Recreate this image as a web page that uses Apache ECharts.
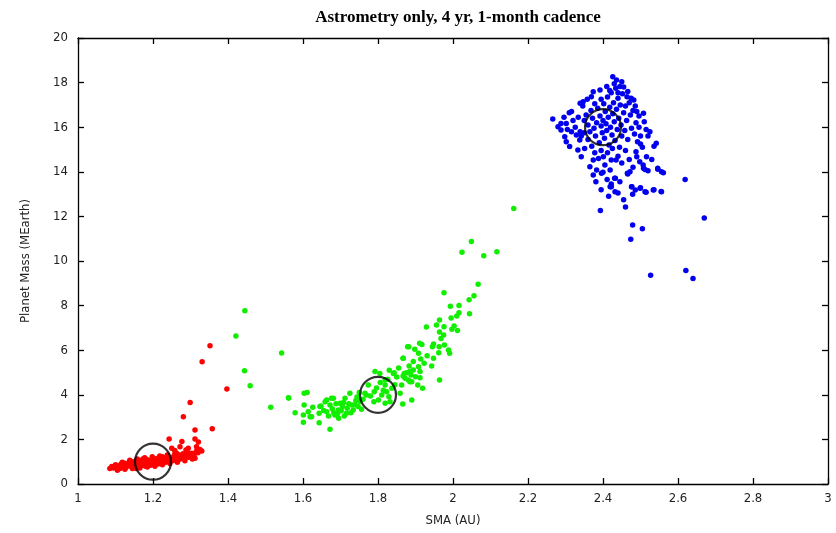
<!DOCTYPE html>
<html>
<head>
<meta charset="utf-8">
<script src="https://cdn.jsdelivr.net/npm/echarts@6/dist/echarts.min.js"></script>
<style>
  html, body { margin: 0; padding: 0; background: #fff; }
  #chart { width: 836px; height: 533px; }
</style>
</head>
<body>
<div id="chart"></div>
<script>
// x tick range / y tick range
const xTicks = [1, 3, 0.2]
const yTicks = [0, 20, 2]

// reference positions (circles)
const refPoints = [[1.2, 1], [1.8, 4], [2.4, 16]]

const redPts = [
  [1.085,0.70],[1.09,0.78],[1.095,0.72],[1.10,0.80],[1.10,0.86],[1.105,0.75],[1.11,0.82],[1.112,0.70],
  [1.115,0.90],[1.12,0.78],[1.12,0.85],[1.125,0.93],[1.128,0.74],[1.13,0.82],[1.132,0.88],[1.135,0.95],
  [1.14,0.80],[1.14,0.90],[1.143,1.00],[1.145,0.76],[1.15,0.86],[1.15,0.94],[1.152,1.02],[1.155,0.82],
  [1.158,0.90],[1.16,0.97],[1.16,1.05],[1.163,0.78],[1.165,0.88],[1.168,0.94],[1.17,1.00],[1.17,1.08],
  [1.173,0.84],[1.175,0.92],[1.178,0.98],[1.18,1.04],[1.18,0.80],[1.183,1.10],[1.185,0.88],[1.188,0.95],
  [1.19,1.00],[1.19,1.06],[1.193,0.84],[1.195,0.92],[1.198,0.98],[1.20,1.03],[1.20,1.10],[1.202,0.88],
  [1.205,0.95],[1.208,1.00],[1.21,1.07],[1.21,1.14],[1.213,0.90],[1.215,0.98],[1.218,1.04],[1.22,1.10],
  [1.222,0.94],[1.225,1.00],[1.228,1.06],[1.23,1.13],[1.232,0.96],[1.235,1.03],[1.238,1.09],[1.24,1.16],
  [1.242,1.00],[1.245,1.06],[1.248,1.12],[1.25,1.20],[1.252,1.04],[1.255,1.10],[1.258,1.16],[1.26,1.24],
  [1.262,1.08],[1.265,1.14],[1.268,1.20],[1.27,1.30],[1.272,1.12],[1.275,1.18],[1.278,1.25],[1.28,1.36],
  [1.283,1.16],[1.285,1.22],[1.29,1.30],[1.292,1.42],[1.295,1.20],[1.30,1.28],[1.303,1.38],[1.308,1.24],
  [1.31,1.34],[1.315,1.46],[1.32,1.40],[1.325,1.55],[1.33,1.48],
  [1.105,0.62],[1.125,0.66],[1.145,0.70],[1.165,0.72],[1.185,0.76],[1.205,0.80],[1.225,0.86],[1.245,0.92],
  [1.118,0.98],[1.138,1.06],[1.158,1.12],[1.178,1.18],[1.198,1.22],[1.218,1.26],[1.238,1.30],[1.258,1.34],
  [1.265,0.98],[1.285,1.04],[1.305,1.12],[1.225,1.22],[1.175,1.14],[1.155,0.70],
  [1.243,2.02],[1.277,1.91],[1.312,2.02],[1.321,1.88],[1.272,1.67],[1.294,1.60],[1.316,1.67],[1.325,1.52],
  [1.250,1.60],[1.263,1.38],[1.299,1.30],[1.312,1.15],[1.285,1.15],[1.267,1.08],[1.258,1.50],[1.288,1.52],
  [1.281,3.02],[1.299,3.66],[1.312,2.42],[1.358,2.48],[1.331,5.48],[1.352,6.20],[1.397,4.26]
]

const greenPts = [
  [1.445,7.77],[1.421,6.64],[1.543,5.87],[1.444,5.08],[1.459,4.41],[1.514,3.44],[1.562,3.86],[1.579,3.20],
  [1.603,4.07],[1.611,4.10],[1.601,3.09],[1.601,2.77],[1.619,3.02],[1.626,3.44],[1.645,3.47],[1.643,2.75],
  [1.672,2.45],[1.663,3.77],[1.681,3.84],
  [1.561,3.87],[1.603,3.54],[1.614,3.24],[1.623,3.02],[1.643,3.17],[1.648,3.50],[1.659,3.69],[1.663,3.24],
  [1.672,3.54],[1.676,3.84],[1.685,3.09],[1.694,3.32],[1.699,3.62],[1.705,3.47],[1.716,3.17],[1.712,3.84],
  [1.725,4.07],[1.730,3.54],[1.734,3.32],[1.741,3.74],[1.747,3.47],[1.765,4.07],[1.774,4.44],[1.769,3.99],
  [1.790,4.14],[1.789,3.69],[1.801,3.77],[1.810,3.99],[1.819,4.44],[1.823,4.14],[1.829,3.91],[1.837,4.29],
  [1.832,3.69],[1.819,3.62],[1.792,5.04],[1.805,4.96],[1.841,4.96],[1.819,4.66],[1.859,4.07],[1.863,4.44],
  [1.870,4.96],[1.872,4.74],[1.885,5.04],[1.890,3.77],[1.885,4.59],
  [1.655,3.30],[1.668,3.05],[1.678,3.38],[1.688,3.60],[1.692,3.15],[1.702,3.28],[1.708,3.66],[1.718,3.40],
  [1.722,3.60],[1.728,3.20],[1.738,3.55],[1.744,3.90],[1.752,3.70],[1.756,3.35],[1.760,3.80],[1.695,2.95],
  [1.682,3.20],[1.710,3.05],[1.750,4.10],[1.780,3.95],[1.796,4.30],[1.806,4.55],[1.814,4.20],[1.826,4.70],
  [1.845,4.45],[1.850,4.80],[1.855,5.20],[1.830,5.10],
  [1.866,3.59],[1.867,5.64],[1.879,6.16],
  [2.162,12.35],[2.049,10.87],[2.024,10.39],[2.082,10.24],[2.117,10.42],[2.067,8.96],[1.976,8.58],[2.056,8.44],
  [2.043,8.26],[2.016,8.00],[1.993,7.97],[2.044,7.64],[2.016,7.68],[2.010,7.53],[1.995,7.44],[1.964,7.35],
  [1.976,7.05],[1.956,7.13],[1.929,7.04],[2.003,7.09],[2.012,6.88],[1.997,6.94],[1.964,6.82],[1.975,6.68],
  [1.968,6.53],[1.948,6.28],[1.977,6.23],[1.963,6.16],[1.945,6.16],[1.917,6.26],[1.911,6.31],[1.882,6.16],
  [1.898,6.04],[1.988,6.01],[1.991,5.86],[1.931,5.75],[1.908,5.86],[1.962,5.89],[1.867,5.64],[1.948,5.64],
  [1.914,5.61],[1.894,5.49],[1.923,5.41],[1.943,5.29],[1.883,5.29],[1.908,5.26],[1.894,5.11],[1.912,5.04],
  [1.876,4.99],[1.888,4.89],[1.867,4.84],[1.843,4.99],[1.900,4.81],[1.912,4.77],[1.881,4.66],[1.890,4.59],
  [1.964,4.66],[1.906,4.44],[1.919,4.29]
]

const bluePts = [
  [2.426,18.26],[2.266,16.37],[2.619,13.66],[2.670,11.93],[2.527,9.36],[2.621,9.57],[2.640,9.21],[2.393,12.27],
  [2.460,12.42],[2.479,11.61],[2.505,11.45],[2.474,10.97],
  [2.515,13.08],[2.555,13.12],[2.536,13.20],[2.479,12.99],[2.500,13.29],[2.486,13.18],[2.477,13.33],[2.466,13.90],
  [2.422,13.33],[2.422,13.45],[2.411,13.66],[2.431,13.71],[2.400,13.98],[2.374,13.86],[2.507,14.31],[2.512,14.10],
  [2.546,14.11],[2.561,13.96],
  [2.374,14.53],[2.365,14.23],[2.383,14.08],[2.396,13.93],[2.419,14.08],[2.422,14.53],[2.435,14.53],[2.401,14.68],
  [2.419,13.33],[2.433,13.71],[2.465,13.93],[2.476,13.33],[2.499,13.26],[2.512,13.11],[2.534,13.18],[2.556,13.11],
  [2.508,14.16],[2.520,14.05],[2.546,14.16],[2.556,14.00],[2.516,14.68],[2.490,14.68],[2.542,15.28],[2.536,15.15],
  [2.525,15.80],[2.520,15.60],[2.508,16.62],[2.490,16.70],[2.482,17.22],[2.464,17.37],[2.445,17.82],[2.450,18.04],
  [2.436,18.12],[2.410,17.82],[2.392,17.67],[2.374,17.59],[2.369,17.37],[2.347,17.14],[2.339,17.07],[2.316,16.70],
  [2.310,16.65],[2.302,16.17],[2.288,16.17],[2.280,16.02],[2.288,15.87],[2.298,15.57],[2.302,15.35],[2.311,15.13],
  [2.333,14.98],[2.342,14.68],[2.351,15.05],[2.338,15.43],[2.329,15.65],[2.316,15.80],[2.339,15.80],
  [2.350,16.30],[2.355,16.55],[2.360,16.10],[2.365,15.80],[2.368,16.75],[2.372,16.40],[2.376,15.95],[2.380,15.60],
  [2.383,16.20],[2.386,16.85],[2.390,15.30],[2.392,16.50],[2.395,16.05],[2.398,15.75],[2.400,16.30],[2.402,17.05],
  [2.404,15.50],[2.406,16.70],[2.408,16.15],[2.410,15.85],[2.412,17.35],[2.414,16.45],[2.416,15.20],[2.418,16.90],
  [2.420,16.00],[2.422,17.55],[2.424,15.65],[2.426,16.60],[2.428,17.10],[2.430,16.25],[2.432,15.40],[2.434,17.75],
  [2.436,16.80],[2.438,15.90],[2.440,17.30],[2.442,16.40],[2.444,15.10],[2.446,17.00],[2.448,16.10],[2.450,15.60],
  [2.452,17.50],[2.455,16.65],[2.458,15.85],[2.460,16.95],[2.463,16.30],[2.466,15.45],[2.470,17.10],[2.473,16.55],
  [2.476,15.95],[2.480,16.75],[2.484,15.70],[2.488,16.20],[2.492,15.35],[2.496,16.00],[2.500,15.60],[2.505,15.10],
  [2.360,15.45],[2.370,15.15],[2.378,14.85],[2.388,14.60],[2.395,14.95],[2.405,14.30],[2.412,14.85],[2.425,15.05],
  [2.440,14.70],[2.450,14.40],[2.460,14.95],[2.470,14.55],[2.480,14.20],[2.488,14.90],[2.498,14.45],[2.350,15.75],
  [2.346,16.95],[2.358,17.25],[2.378,17.05],[2.395,17.25],[2.418,17.65],[2.430,17.95],[2.440,17.55],[2.455,17.80],
  [2.466,17.60],[2.475,17.30],[2.486,16.95],[2.496,16.50],[2.510,16.25],[2.515,15.90],[2.320,16.30],[2.326,16.00],
  [2.334,16.45],[2.342,15.60],[2.296,16.45],[2.305,15.90],[2.381,13.55],[2.395,13.20],[2.440,13.05],[2.455,12.75],
  [2.530,14.55],[2.500,15.25],[2.415,12.90],[2.472,14.00],[2.445,13.55],[2.432,13.10]
]

const chart = echarts.init(document.getElementById('chart'))

const tickFont = { fontFamily: '"Liberation Sans Narrow", "DejaVu Sans Condensed", Arial, sans-serif', fontSize: 13, color: '#222' }
const lineStyle = { color: '#000', width: 1.3 }

function dotSeries(data, color) {
  return {
    type: 'scatter', data, symbolSize: 5.5, silent: true,
    itemStyle: { color, opacity: 1 }
  }
}

chart.setOption({
  animation: false,
  title: {
    text: 'Astrometry only, 4 yr, 1-month cadence',
    left: 453, top: 4, textAlign: 'center',
    textStyle: { fontFamily: '"Liberation Serif", "Times New Roman", serif', fontSize: 17, fontWeight: 'bold', color: '#000' }
  },
  grid: { left: 78, right: 8, top: 38, bottom: 49 },
  xAxis: [{
    type: 'value', min: xTicks[0], max: xTicks[1], interval: xTicks[2],
    name: 'SMA (AU)', nameLocation: 'middle', nameGap: 30,
    nameTextStyle: { fontFamily: tickFont.fontFamily, fontSize: 13, color: '#222' },
    axisLine: { onZero: false, lineStyle }, axisTick: { inside: true, length: 6, lineStyle },
    axisLabel: { ...tickFont, margin: 8 }, splitLine: { show: false }
  }, {
    type: 'value', position: 'top', min: xTicks[0], max: xTicks[1], interval: xTicks[2],
    axisLine: { show: true, onZero: false, lineStyle }, axisTick: { inside: true, length: 6, lineStyle },
    axisLabel: { show: false }, splitLine: { show: false }
  }],
  yAxis: [{
    type: 'value', min: yTicks[0], max: yTicks[1], interval: yTicks[2],
    name: 'Planet Mass (MEarth)', nameLocation: 'middle', nameGap: 46,
    nameTextStyle: { fontFamily: tickFont.fontFamily, fontSize: 13, color: '#222' },
    axisLine: { show: true, onZero: false, lineStyle }, axisTick: { inside: true, length: 6, lineStyle },
    axisLabel: { ...tickFont, margin: 10 }, splitLine: { show: false }
  }, {
    type: 'value', position: 'right', min: yTicks[0], max: yTicks[1], interval: yTicks[2],
    axisLine: { show: true, onZero: false, lineStyle }, axisTick: { inside: true, length: 6, lineStyle },
    axisLabel: { show: false }, splitLine: { show: false }
  }],
  series: [
    dotSeries(redPts, '#ff0000'),
    dotSeries(greenPts, '#11ee00'),
    dotSeries(bluePts, '#0000ee'),
    {
      type: 'scatter', data: refPoints, symbol: 'circle', symbolSize: 36, silent: true, z: 5,
      itemStyle: { color: 'rgba(0,0,0,0)', borderColor: '#000', borderWidth: 2.2 }
    }
  ]
})
</script>
</body>
</html>
